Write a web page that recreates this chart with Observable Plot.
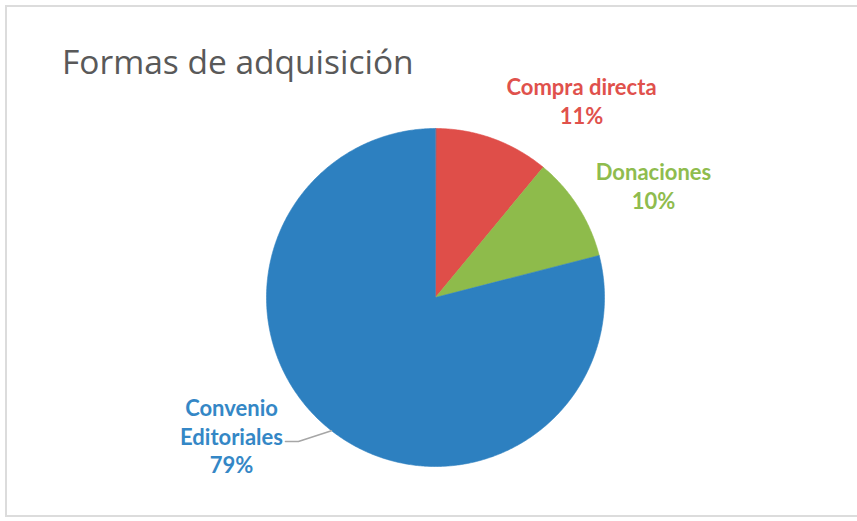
<!DOCTYPE html>
<html>
<head>
<meta charset="utf-8">
<script src="https://cdn.jsdelivr.net/npm/d3@7"></script>
<script src="https://cdn.jsdelivr.net/npm/@observablehq/plot@0.6"></script>
<style>
  html, body { margin: 0; padding: 0; background: #fff; overflow: hidden; }
  #wrap { position: relative; width: 857px; height: 521px; overflow: hidden; }
  #border { position: absolute; left: 5px; top: 5px; width: 950px; height: 512px; border: 2px solid #dcdcdc; box-sizing: border-box; pointer-events: none; }
  #title { position: absolute; left: 62px; top: 41px; margin: 0; font-family: "Open Sans", sans-serif; font-weight: 400; font-size: 33.5px; line-height: 1.2; color: #595959; white-space: nowrap; }
  #chart { position: absolute; left: 0; top: 0; }
</style>
</head>
<body>
<div id="wrap">
  <div id="chart"></div>
  <div id="border"></div>
  <h1 id="title">Formas de adquisición</h1>
</div>
<script>
const categories = ["Compra directa", "Donaciones", "Convenio Editoriales"];
const values = [11, 10, 79];
const labelNames = ["Compra directa", "Donaciones", "Convenio\nEditoriales"];
const percentLabels = ["11%", "10%", "79%"];
const colors = ["#DF4E49", "#8EBB4B", "#2D80C0"];
const textColors = ["#E0514C", "#8FBC4E", "#3487C6"];

// label layout (in pie-radius units), separate from the data
const labelLayout = [[0.864, 1.166], [1.29, 0.663], [-1.207, -0.817]];

const arcs = d3.pie().sort(null).value(d => d)(values);

// polygon outline for each slice, sampled along its arc
const slicePoints = [];
arcs.forEach((a, i) => {
  const cat = categories[i];
  slicePoints.push({cat, x: 0, y: 0});
  const n = Math.max(2, Math.ceil((a.endAngle - a.startAngle) / (Math.PI / 360)));
  for (let k = 0; k <= n; k++) {
    const t = a.startAngle + (a.endAngle - a.startAngle) * k / n;
    slicePoints.push({cat, x: Math.sin(t), y: Math.cos(t)});
  }
});

const labels = categories.map((c, i) => ({
  cat: c,
  text: labelNames[i] + "\n" + percentLabels[i],
  x: labelLayout[i][0],
  y: labelLayout[i][1],
  color: textColors[i]
}));

// leader line for the large slice
const leaderAngle = 218 * Math.PI / 180;
const leader = [
  {x: Math.sin(leaderAngle), y: Math.cos(leaderAngle)},
  {x: -0.811, y: -0.852},
  {x: -0.888, y: -0.852}
];

const chart = Plot.plot({
  width: 857,
  height: 521,
  marginLeft: 266,
  marginRight: 253,
  marginTop: 128,
  marginBottom: 55,
  x: {domain: [-1, 1], axis: null},
  y: {domain: [-1, 1], axis: null},
  color: {domain: categories, range: colors},
  style: {background: "transparent", overflow: "visible"},
  marks: [
    Plot.line(slicePoints, {x: "x", y: "y", z: "cat", fill: "cat", stroke: "cat", strokeWidth: 0.6, curve: "linear-closed"}),
    Plot.line(leader, {x: "x", y: "y", stroke: "#A6A6A6", strokeWidth: 1.5}),
    Plot.text(labels, {
      x: "x", y: "y", text: "text",
      fill: d => d.color,
      fontFamily: "Lato, sans-serif",
      fontWeight: 700,
      fontSize: 22,
      lineHeight: 1.3,
      textAnchor: "middle",
      lineAnchor: "middle"
    })
  ]
});
document.getElementById("chart").appendChild(chart);
</script>
</body>
</html>
